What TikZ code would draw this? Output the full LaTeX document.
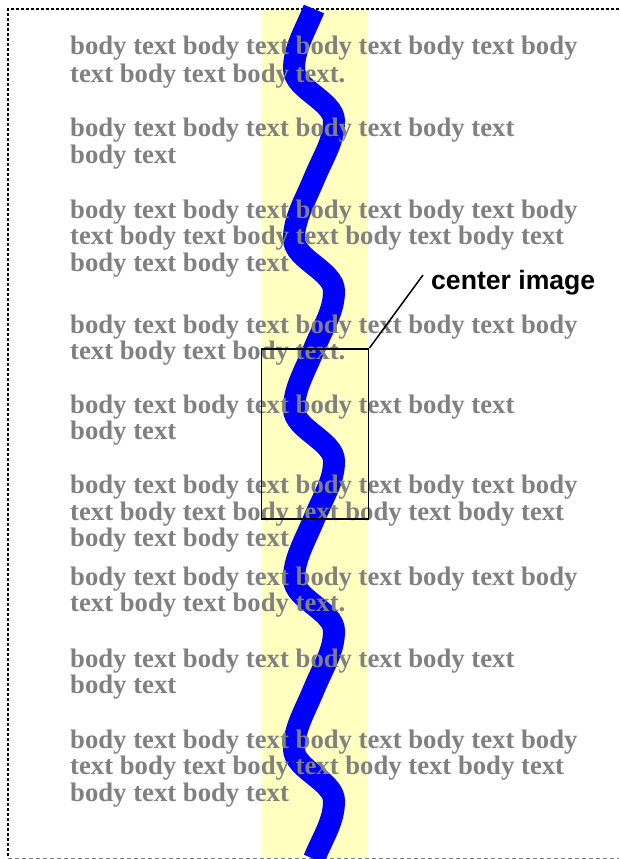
\documentclass[tikz,border=0pt]{standalone}
\usepackage{fontspec}
\setmainfont{Liberation Serif}
\newfontfamily\calloutfont{Liberation Sans}
\usetikzlibrary{positioning}
\definecolor{bandyellow}{RGB}{255,255,192}
\definecolor{waveblue}{RGB}{0,0,255}
\definecolor{bodygray}{RGB}{128,128,128}

\begin{document}
\begin{tikzpicture}[
    x=1pt, y=-1pt,
    % Text styles
    bodyline/.style={
        anchor=base west, inner sep=0pt,
        text=bodygray, font=\fontsize{26.7}{27}\selectfont\bfseries
    },
    calloutlabel/.style={
        anchor=base west, inner sep=0pt,
        text=black, font=\calloutfont\fontsize{26.6}{27}\selectfont\bfseries
    },
    % Shape styles
    centerbox/.style={
        rectangle, draw=black, line width=1.8pt,
        minimum width=107pt, minimum height=170pt, inner sep=0pt
    },
    wave/.style={
        draw=waveblue, line width=22pt
    },
    leader/.style={
        line width=1.5pt, color=black
    },
]

\useasboundingbox (0,0) rectangle (619,859);

% ===== FRAME =====
\draw[line width=1.2pt, dash pattern=on 3pt off 2pt] (619,9) -- (8,9) -- (8,858);
\draw[line width=1pt, bodygray, dash pattern=on 4pt off 3pt] (8,858) -- (619,858);

% ===== YELLOW BAND =====
\fill[bandyellow] (262,10) rectangle (368,858);

% ===== WAVE (five repeats) =====
\draw[wave] (314,9)
    \foreach \t in {9,179,349,519,689} {
        .. controls (304,\t+24) and (294,\t+40) .. (294,\t+60)
        .. controls (294,\t+80) and (334,\t+92) .. (334,\t+112)
        .. controls (334,\t+132) and (324,\t+146) .. (314,\t+170)
    };

% ===== BODY TEXT =====
\node[bodyline] (p1a) at (70,55) {body text body text body text body text body};
\node[bodyline] (p1b) at (70,82) {text body text body text.};

\node[bodyline] (p2a) at (70,136) {body text body text body text body text};
\node[bodyline] (p2b) at (70,163) {body text};

\node[bodyline] (p3a) at (70,218) {body text body text body text body text body};
\node[bodyline] (p3b) at (70,244) {text body text body text body text body text};
\node[bodyline] (p3c) at (70,271) {body text body text};

\node[bodyline] (p4a) at (70,333) {body text body text body text body text body};
\node[bodyline] (p4b) at (70,359) {text body text body text.};

\node[bodyline] (p5a) at (70,413) {body text body text body text body text};
\node[bodyline] (p5b) at (70,439) {body text};

\node[bodyline] (p6a) at (70,493) {body text body text body text body text body};
\node[bodyline] (p6b) at (70,520) {text body text body text body text body text};
\node[bodyline] (p6c) at (70,546) {body text body text};

\node[bodyline] (p7a) at (70,585) {body text body text body text body text body};
\node[bodyline] (p7b) at (70,611) {text body text body text.};

\node[bodyline] (p8a) at (70,667) {body text body text body text body text};
\node[bodyline] (p8b) at (70,693) {body text};

\node[bodyline] (p9a) at (70,748) {body text body text body text body text body};
\node[bodyline] (p9b) at (70,774) {text body text body text body text body text};
\node[bodyline] (p9c) at (70,801) {body text body text};

% ===== CENTER IMAGE CALLOUT =====
\node[centerbox] (imgbox) at (315,434) {};
\node[calloutlabel] (imglabel) at (431,289) {center image};
\coordinate (leaderend) at (423,275);
\draw[leader] (imgbox.north east) -- (leaderend);

\end{tikzpicture}
\end{document}
